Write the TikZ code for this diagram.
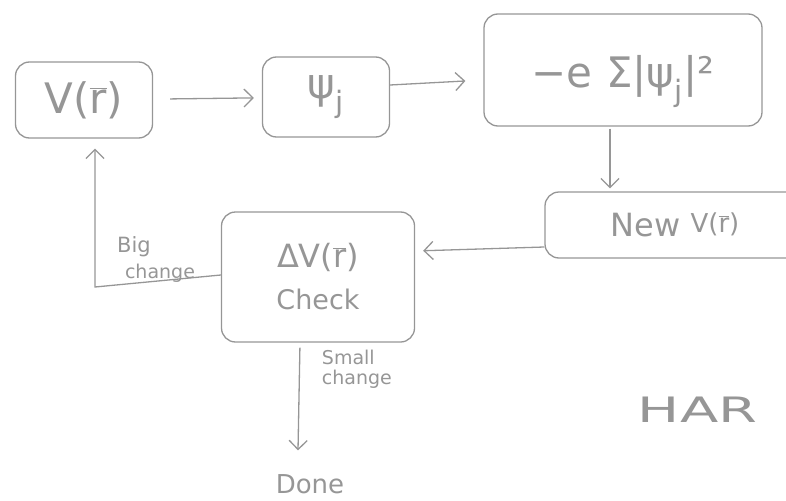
\documentclass[tikz,border=0pt]{standalone}
\usepackage{fontspec}
\setmainfont{DejaVu Sans}
\usepackage{tikz}
\usetikzlibrary{arrows.meta, positioning}
\definecolor{pencil}{RGB}{150,150,150}
\newcommand\rvec{\ensuremath{\overline{\mbox{r}}}}

\begin{document}
\begin{tikzpicture}[x=1pt,y=-1pt,line width=1.3pt,draw=pencil,text=pencil,
    box/.style={draw=pencil,rounded corners=14pt,inner sep=0pt},
    flow/.style={-{Straight Barb[length=9pt,width=18pt]}},
    bigtext/.style={font=\fontsize{42}{46}\selectfont},
    midtext/.style={font=\fontsize{32}{40}\selectfont},
    note/.style={font=\fontsize{19}{20}\selectfont,align=left}]
    \useasboundingbox (0,0) rectangle (786,500);
    \clip (0,0) rectangle (786,500);

    % Potential -> orbitals -> density
    \node[box,bigtext,minimum width=137,minimum height=76] (vr) at (84,100) {V(\rvec)};
    \node[box,bigtext,minimum width=127,minimum height=80] (psi) at (326,97) {ψ\textsubscript{j}};
    \node[box,bigtext,minimum width=278,minimum height=112] (sum) at (623,70)
        {\raisebox{-18pt}[0pt][0pt]{−e Σ|ψ\textsubscript{j}|²}};

    % New potential and check
    \node[box,midtext,minimum width=260,minimum height=66] (newv) at (675,225)
        {New {\fontsize{26}{30}\selectfont\raisebox{4pt}{V(\rvec)}}};
    \node[box,midtext,minimum width=193,minimum height=130,align=center] (chk) at (318,277)
        {ΔV(\rvec)\\[2pt]{\fontsize{27}{32}\selectfont Check}};
    \node[font=\fontsize{26}{30}\selectfont] (done) at (310,484) {Done};
    \node[font=\fontsize{35}{40}\selectfont,anchor=west] (hart) at (634,410)
        {\scalebox{1.6}[1]{HAR}};

    % Connectors
    \draw[flow,shorten <=17pt,shorten >=8pt] (vr) -- (psi);
    \draw[flow,shorten >=18pt] ([yshift=12pt]psi.east) -- ([yshift=-10pt]sum.west);
    \draw[flow,shorten <=2pt,shorten >=3pt] ([xshift=-13pt]sum.south) -- ([xshift=-13pt]sum.south |- newv.north);
    \draw[flow,shorten >=8pt] ([yshift=-22pt]newv.west) -- ([yshift=26pt]chk.east);
    \coordinate (bigturn) at (95,287);
    \draw[flow,shorten >=10pt] ([yshift=2pt]chk.west) -- (bigturn) -- (bigturn |- vr.south);
    \draw[flow,shorten <=5pt] ([xshift=-18pt]chk.south) -- ([xshift=-12pt,yshift=20pt]done.north);

    % Labels
    \node[note,font=\fontsize{21}{22}\selectfont] (big) at (134,247) {Big};
    \node[note] (bigc) at (160,273) {change};
    \node[note,anchor=north west] (small) at (318,346) {Small\\change};
\end{tikzpicture}
\end{document}
